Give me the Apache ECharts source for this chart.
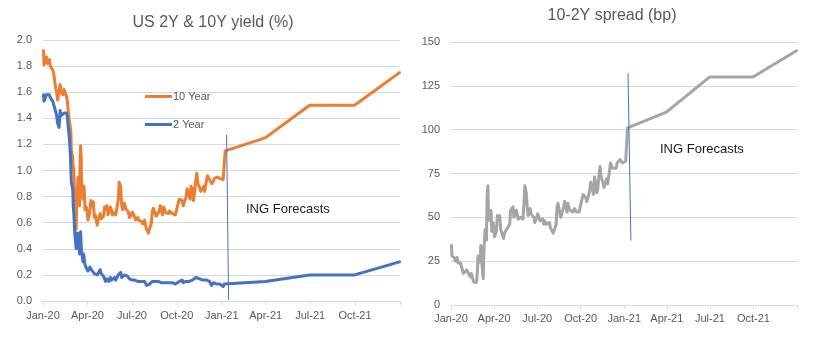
<!DOCTYPE html>
<html>
<head>
<meta charset="utf-8">
<script src="https://cdn.jsdelivr.net/npm/echarts@6/dist/echarts.min.js"></script>
<style>
  html, body { margin: 0; padding: 0; background: #fff; }
  #chart { width: 822px; height: 347px; }
</style>
</head>
<body>
<div id="chart"></div>
<script>
// Quarterly date axis
const tickDates = ['2020-01-01', '2020-04-01', '2020-07-01', '2020-10-01', '2021-01-01',
                   '2021-04-01', '2021-07-01', '2021-10-01', '2022-01-01'];
const tickLabels = ['Jan-20', 'Apr-20', 'Jul-20', 'Oct-20', 'Jan-21', 'Apr-21', 'Jul-21', 'Oct-21'];

// Observed history (2020 to early Jan 2021)
const histDates = [
  '2020-01-02','2020-01-03','2020-01-06','2020-01-08','2020-01-10','2020-01-14','2020-01-16','2020-01-21','2020-01-23','2020-01-27','2020-01-29','2020-01-31',
  '2020-02-03','2020-02-05','2020-02-07','2020-02-11','2020-02-13','2020-02-18','2020-02-20','2020-02-21','2020-02-24','2020-02-26','2020-02-27','2020-02-28',
  '2020-03-02','2020-03-03','2020-03-04','2020-03-05','2020-03-06','2020-03-09','2020-03-10','2020-03-11','2020-03-12','2020-03-13','2020-03-16','2020-03-17','2020-03-18','2020-03-19','2020-03-20','2020-03-23','2020-03-24','2020-03-25','2020-03-26','2020-03-27','2020-03-30','2020-03-31',
  '2020-04-02','2020-04-06','2020-04-08','2020-04-09','2020-04-13','2020-04-15','2020-04-17','2020-04-21','2020-04-23','2020-04-27','2020-04-29',
  '2020-05-04','2020-05-06','2020-05-08','2020-05-11','2020-05-13','2020-05-15','2020-05-18','2020-05-20','2020-05-22','2020-05-27','2020-05-29',
  '2020-06-01','2020-06-03','2020-06-05','2020-06-08','2020-06-10','2020-06-12','2020-06-16','2020-06-18','2020-06-22','2020-06-24','2020-06-26','2020-06-30',
  '2020-07-02','2020-07-07','2020-07-09','2020-07-13','2020-07-15','2020-07-17','2020-07-21','2020-07-23','2020-07-27','2020-07-29','2020-07-31',
  '2020-08-04','2020-08-06','2020-08-10','2020-08-12','2020-08-14','2020-08-18','2020-08-20','2020-08-24','2020-08-26','2020-08-28','2020-08-31',
  '2020-09-02','2020-09-04','2020-09-08','2020-09-10','2020-09-14','2020-09-16','2020-09-18','2020-09-22','2020-09-24','2020-09-28','2020-09-30',
  '2020-10-02','2020-10-06','2020-10-08','2020-10-12','2020-10-14','2020-10-16','2020-10-20','2020-10-22','2020-10-26','2020-10-28','2020-10-30',
  '2020-11-02','2020-11-04','2020-11-06','2020-11-09','2020-11-11','2020-11-13','2020-11-17','2020-11-19','2020-11-23','2020-11-25','2020-11-27',
  '2020-12-01','2020-12-03','2020-12-07','2020-12-09','2020-12-11','2020-12-15','2020-12-17','2020-12-21','2020-12-23','2020-12-28','2020-12-30',
  '2021-01-04','2021-01-06'
];
const yield10Hist = [
  1.92,1.81,1.84,1.87,1.82,1.85,1.80,1.77,1.74,1.63,1.60,1.54,
  1.53,1.66,1.60,1.58,1.62,1.57,1.53,1.48,1.38,1.33,1.30,1.15,
  1.10,1.00,1.02,0.92,0.76,0.55,0.76,0.82,0.88,0.95,0.73,1.08,1.19,1.12,0.92,0.78,0.86,0.88,0.82,0.70,0.72,0.70,
  0.62,0.68,0.77,0.73,0.76,0.64,0.66,0.58,0.62,0.67,0.63,
  0.65,0.72,0.70,0.73,0.66,0.65,0.72,0.70,0.66,0.68,0.66,
  0.66,0.77,0.91,0.88,0.74,0.70,0.75,0.71,0.71,0.68,0.64,0.66,
  0.68,0.64,0.62,0.64,0.62,0.63,0.61,0.59,0.62,0.58,0.55,
  0.52,0.55,0.60,0.69,0.71,0.67,0.65,0.66,0.69,0.73,0.70,
  0.66,0.72,0.68,0.68,0.67,0.69,0.69,0.67,0.67,0.66,0.69,
  0.70,0.78,0.79,0.77,0.73,0.75,0.80,0.86,0.81,0.78,0.88,
  0.86,0.77,0.82,0.93,0.98,0.90,0.87,0.84,0.86,0.88,0.84,
  0.93,0.96,0.93,0.94,0.90,0.92,0.94,0.94,0.95,0.94,0.93,
  0.93,0.93
];
const yield2Hist = [
  1.58,1.53,1.56,1.58,1.57,1.58,1.56,1.53,1.52,1.45,1.42,1.36,
  1.33,1.46,1.42,1.42,1.44,1.44,1.41,1.36,1.25,1.13,1.02,0.91,
  0.85,0.72,0.68,0.60,0.52,0.40,0.52,0.48,0.50,0.52,0.36,0.50,0.53,0.44,0.38,0.30,0.36,0.34,0.30,0.28,0.25,0.25,
  0.23,0.26,0.26,0.24,0.25,0.21,0.22,0.20,0.21,0.24,0.21,
  0.19,0.18,0.15,0.17,0.16,0.15,0.18,0.16,0.17,0.18,0.16,
  0.17,0.20,0.21,0.22,0.18,0.19,0.20,0.19,0.19,0.18,0.17,0.16,
  0.16,0.16,0.15,0.15,0.16,0.15,0.15,0.14,0.15,0.14,0.12,
  0.11,0.13,0.14,0.15,0.15,0.15,0.15,0.15,0.16,0.14,0.14,
  0.13,0.14,0.14,0.14,0.14,0.15,0.14,0.14,0.14,0.13,0.13,
  0.13,0.15,0.15,0.16,0.14,0.14,0.15,0.16,0.15,0.15,0.15,
  0.16,0.15,0.16,0.18,0.19,0.17,0.17,0.17,0.16,0.16,0.15,
  0.16,0.15,0.15,0.16,0.12,0.14,0.13,0.13,0.12,0.13,0.12,
  0.11,0.13
];
const spreadHist = [
  34,28,28,27,25,27,24,24,22,18,18,18,
  20,20,18,16,18,13,12,12,13,20,28,24,
  25,28,34,32,24,15,24,34,38,43,37,58,66,68,54,48,50,54,52,42,47,45,
  39,42,51,49,51,43,44,38,41,43,42,
  46,54,55,56,50,50,54,54,49,50,50,
  49,57,68,64,56,51,55,52,52,50,47,50,
  52,48,47,49,46,48,46,45,47,44,43,
  41,42,46,56,58,52,50,51,56,59,56,
  53,58,54,54,53,54,55,53,53,53,56,
  57,63,64,61,59,61,65,70,66,63,73,
  70,64,66,75,79,73,70,67,70,72,69,
  77,81,78,78,78,78,81,81,83,81,81,
  82,82
];

// ING forecast path
const fcstDates = ['2021-01-08', '2021-03-31', '2021-06-30', '2021-09-30', '2021-12-31'];
const yield10Fcst = [1.15, 1.25, 1.50, 1.50, 1.75];
const yield2Fcst = [0.14, 0.15, 0.20, 0.20, 0.30];
const spreadFcst = [101, 110, 130, 130, 145];

// Divider between history and forecasts, in each panel's data space
const dividerYield = [['2021-01-11', 1.27], ['2021-01-15', 0.01]];
const dividerSpread = [['2021-01-09', 132], ['2021-01-15', 37]];

function toTime(s) {
  const [y, m, d] = s.split('-').map(Number);
  return new Date(y, m - 1, d).getTime();
}
function pairs(dates, vals) {
  return dates.map((d, i) => [toTime(d), vals[i]]);
}
function fullSeries(hist, fcst) {
  return pairs(histDates, hist).concat(pairs(fcstDates, fcst));
}

const tickTimes = tickDates.map(toTime);
const labelTimes = tickTimes.slice(0, tickLabels.length);

const FONT = '"Liberation Sans", Arial, sans-serif';
const GREY_TXT = '#595959';
const GRID_CLR = '#D9D9D9';
const ORANGE = '#ED7D31';
const BLUE = '#4472C4';
const GREY = '#A5A5A5';

// Dates are plotted as timestamps on a numeric axis with quarter-start ticks
function xAxis(gridIndex, margin) {
  return {
    type: 'value',
    gridIndex: gridIndex,
    min: tickTimes[0],
    max: tickTimes[tickTimes.length - 1],
    axisLine: { show: true, onZero: false, lineStyle: { color: GRID_CLR, width: 1 } },
    axisTick: { show: true, customValues: tickTimes, length: 4, lineStyle: { color: GRID_CLR } },
    splitLine: { show: false },
    axisLabel: {
      customValues: labelTimes,
      margin: margin,
      color: GREY_TXT,
      fontFamily: FONT,
      fontSize: 11,
      hideOverlap: false,
      formatter: function (v) {
        const i = labelTimes.indexOf(v);
        return i >= 0 ? tickLabels[i] : '';
      }
    }
  };
}
function yAxis(gridIndex, max, interval, digits) {
  return {
    type: 'value',
    gridIndex: gridIndex,
    min: 0,
    max: max,
    interval: interval,
    axisLine: { show: false },
    axisTick: { show: false },
    splitLine: { show: true, lineStyle: { color: GRID_CLR, width: 1 } },
    axisLabel: {
      margin: 11,
      color: GREY_TXT,
      fontFamily: FONT,
      fontSize: 11,
      formatter: function (v) { return v.toFixed(digits); }
    }
  };
}
function lineSeries(name, xi, yi, data, color, width) {
  return {
    name: name,
    type: 'line',
    xAxisIndex: xi,
    yAxisIndex: yi,
    data: data,
    symbol: 'none',
    silent: true,
    animation: false,
    lineStyle: { color: color, width: width, join: 'round', cap: 'round' },
    itemStyle: { color: color }
  };
}

const chart = echarts.init(document.getElementById('chart'), null, { renderer: 'canvas' });
chart.setOption({
  backgroundColor: '#ffffff',
  animation: false,
  grid: [
    { left: 43, right: 422, top: 40, bottom: 46 },
    { left: 451, right: 25, top: 42, bottom: 42 }
  ],
  xAxis: [xAxis(0, 9), xAxis(1, 8)],
  yAxis: [yAxis(0, 2, 0.2, 1), yAxis(1, 150, 25, 0)],
  legend: {
    data: ['10 Year', '2 Year'],
    orient: 'vertical',
    left: 140,
    top: 86,
    icon: 'rect',
    itemWidth: 27,
    itemHeight: 3,
    itemGap: 17,
    selectedMode: false,
    textStyle: { color: GREY_TXT, fontFamily: FONT, fontSize: 11, padding: [0, 0, 0, -4] }
  },
  series: [
    lineSeries('10 Year', 0, 0, fullSeries(yield10Hist, yield10Fcst), ORANGE, 3),
    lineSeries('2 Year', 0, 0, fullSeries(yield2Hist, yield2Fcst), BLUE, 3),
    lineSeries('10-2Y spread', 1, 1, fullSeries(spreadHist, spreadFcst), GREY, 3),
    lineSeries('divider-yield', 0, 0, dividerYield.map(p => [toTime(p[0]), p[1]]), BLUE, 1),
    lineSeries('divider-spread', 1, 1, dividerSpread.map(p => [toTime(p[0]), p[1]]), BLUE, 1)
  ],
  graphic: [
    { type: 'text', x: 213, y: 23, silent: true,
      style: { text: 'US 2Y & 10Y yield (%)', font: '16px ' + FONT, fill: GREY_TXT, textAlign: 'center', textVerticalAlign: 'middle', verticalAlign: 'middle' } },
    { type: 'text', x: 612, y: 16, silent: true,
      style: { text: '10-2Y spread (bp)', font: '16px ' + FONT, fill: GREY_TXT, textAlign: 'center', textVerticalAlign: 'middle', verticalAlign: 'middle' } },
    { type: 'text', x: 246, y: 209, silent: true,
      style: { text: 'ING Forecasts', font: '13px ' + FONT, fill: '#1a1a1a', textAlign: 'left', textVerticalAlign: 'middle', verticalAlign: 'middle' } },
    { type: 'text', x: 660, y: 149, silent: true,
      style: { text: 'ING Forecasts', font: '13px ' + FONT, fill: '#1a1a1a', textAlign: 'left', textVerticalAlign: 'middle', verticalAlign: 'middle' } }
  ]
});
</script>
</body>
</html>
